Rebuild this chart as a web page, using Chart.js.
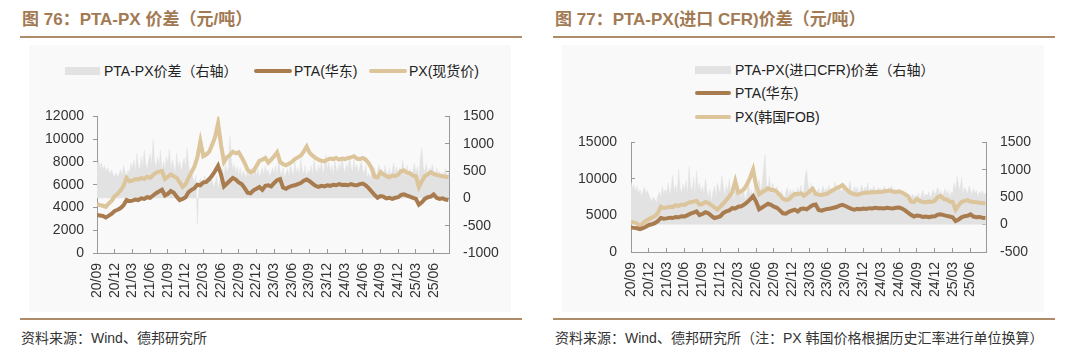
<!DOCTYPE html>
<html>
<head>
<meta charset="utf-8">
<script src="https://cdn.jsdelivr.net/npm/chart.js@4.4.0/dist/chart.umd.min.js"></script>
<style>
  body { margin: 0; width: 1080px; height: 358px; background: #fff; position: relative; overflow: hidden;
         font-family: "Liberation Sans", "Noto Sans CJK SC", sans-serif; }
  .abs { position: absolute; }
  .panel { background: #f9f9f9; }
  .title { font-weight: bold; font-size: 17px; line-height: 20px; color: #a27a54; white-space: nowrap; }
  .rule { height: 2px; background: #ae8b69; }
  .src { font-size: 14px; line-height: 18px; color: #333; white-space: nowrap; }
  .leg { font-size: 14px; line-height: 16px; color: #222; white-space: nowrap; }
  .sw { position: absolute; }
</style>
</head>
<body>

<div class="abs panel" style="left:29px; top:45px; width:482px; height:267px;"></div>
<div class="abs panel" style="left:562px; top:45px; width:482px; height:267px;"></div>

<div class="abs title" style="left:22px; top:10px;">图 76：PTA-PX 价差（元/吨）</div>
<div class="abs title" style="left:555px; top:10px;">图 77：PTA-PX(进口 CFR)价差（元/吨）</div>
<div class="abs rule" style="left:20px; top:36px; width:502px;"></div>
<div class="abs rule" style="left:553px; top:36px; width:502px;"></div>

<!-- legend, left chart -->
<div class="abs sw" style="left:65px; top:67px; width:35px; height:8px; background:#e2e2e2;"></div>
<div class="abs leg" style="left:104px; top:63px;">PTA-PX价差（右轴）</div>
<div class="abs sw" style="left:254px; top:69px; width:38px; height:4px; border-radius:2px; background:#a97c50;"></div>
<div class="abs leg" style="left:294px; top:63px;">PTA(华东)</div>
<div class="abs sw" style="left:369px; top:69px; width:38px; height:4px; border-radius:2px; background:#dcc49b;"></div>
<div class="abs leg" style="left:409px; top:63px;">PX(现货价)</div>

<!-- legend, right chart -->
<div class="abs sw" style="left:695px; top:66px; width:36px; height:8px; background:#e2e2e2;"></div>
<div class="abs leg" style="left:735px; top:62px;">PTA-PX(进口CFR)价差（右轴）</div>
<div class="abs sw" style="left:695px; top:91px; width:36px; height:4px; border-radius:2px; background:#a97c50;"></div>
<div class="abs leg" style="left:735px; top:85px;">PTA(华东)</div>
<div class="abs sw" style="left:695px; top:115px; width:36px; height:4px; border-radius:2px; background:#dcc49b;"></div>
<div class="abs leg" style="left:735px; top:109px;">PX(韩国FOB)</div>

<canvas id="leftChart" class="abs" style="left:30px; top:90px;" width="470" height="215"></canvas>
<canvas id="rightChart" class="abs" style="left:560px; top:116px;" width="480" height="189"></canvas>

<div class="abs rule" style="left:20px; top:318px; width:502px;"></div>
<div class="abs rule" style="left:553px; top:318px; width:502px;"></div>
<div class="abs src" style="left:21px; top:329px;">资料来源：Wind、德邦研究所</div>
<div class="abs src" style="left:555px; top:329px;">资料来源：Wind、德邦研究所（注：PX 韩国价格根据历史汇率进行单位换算）</div>

<script>
// quarterly tick labels, first one = start of the series (2020/09)
const tickLabels = ['20/09','20/12','21/03','21/06','21/09','21/12','22/03','22/06','22/09','22/12',
                    '23/03','23/06','23/09','23/12','24/03','24/06','24/09','24/12','25/03','25/06'];

// prices, two readings per month (yuan/ton)
const ptaEast = [
  3350,3300,3250,3120,3280,3450,3700,3800,3950,4200,4650,4550,
  4600,4700,4650,4800,4750,4900,4850,5050,5250,5400,5550,5050,
  5200,5450,5300,4950,4650,4750,4900,5350,5550,5700,6000,5950,
  6200,6250,6500,6800,7200,7650,6900,5850,6100,6350,6600,6450,
  6200,6050,5700,5300,5250,5500,5650,5800,5550,5900,5950,5850,
  6150,6400,6500,5750,5650,5800,5900,5950,6050,6150,6350,6450,
  6300,6100,5900,5800,5900,5850,5950,5900,6000,5950,6050,5980,
  6000,5950,6050,5980,5950,6050,6100,5950,5700,5400,5100,4850,
  5000,4950,4800,4850,4750,4850,4900,5100,5150,5050,4950,4850,
  4750,4250,4450,4750,4900,4950,5150,4850,4750,4800,4700,4650
];
const pxSpot = [
  4300,4200,4150,4050,4350,4600,5000,5200,5500,5900,6600,6300,
  6350,6500,6450,6600,6500,6700,6600,6850,7050,7150,7200,6500,
  6700,6900,6750,6600,6200,5800,6050,6600,7100,7600,8400,9800,
  8500,8650,8900,9500,10200,11400,9500,8000,8400,8600,8900,8750,
  8850,8400,7900,7300,7100,7200,7650,8100,8200,8350,7950,8200,
  8500,8850,8000,7800,7700,7850,8000,8250,8400,8550,8900,9350,
  8800,8550,8350,8200,8100,8050,8200,8300,8250,8350,8200,8300,
  8250,8350,8400,8500,8300,8250,8350,8200,7900,7450,6700,6650,
  7100,6900,6750,6650,6800,6750,6900,7200,7250,7050,7000,6800,
  6750,5800,6300,6750,6900,7100,6950,6850,6800,6750,6700,6650
];
const pxKoreaFob = [
  4150,4050,3900,3550,3900,4300,4500,4700,4900,5300,6200,6000,
  6100,6200,6150,6400,6300,6500,6450,6700,6800,6900,7000,6500,
  6600,6850,6700,6400,6100,5800,6200,6650,7100,7600,8200,9700,
  8100,8300,8600,9300,10200,11300,9100,7900,8200,8400,8700,8500,
  8500,8200,7800,7300,7100,7200,7600,7950,7900,8050,7700,7950,
  8300,8650,7950,7850,7800,7900,8000,8300,8500,8750,8900,9150,
  8700,8300,8050,7900,7850,7950,8050,8150,8100,8200,8150,8250,
  8200,8300,8350,8400,8250,8200,8300,8150,7900,7650,6900,6850,
  7250,7000,6850,6800,6900,6850,7000,7500,7650,7250,7200,6900,
  6850,5800,6400,6850,7000,7100,6900,6850,6800,6750,6700,6650
];

// spreads, four readings per month (right axis)
const spreadSpot = [
  620,700,560,650,520,600,480,560,500,450,520,430,
  400,470,380,450,520,420,600,480,380,520,460,640,
  560,700,480,820,600,520,760,560,880,620,540,700,
  820,600,1080,680,560,760,600,880,500,680,540,760,
  640,900,520,700,580,460,820,560,680,500,620,740,
  560,920,620,480,540,380,300,420,-480,280,360,220,
  300,420,260,380,240,460,320,200,280,400,180,300,
  420,560,380,640,480,560,1150,700,520,620,460,580,
  420,560,380,500,440,360,520,400,460,560,380,500,
  420,540,380,480,560,420,600,460,520,380,480,560,
  440,600,380,720,500,420,560,380,460,540,400,620,
  500,420,660,480,560,400,720,520,440,600,380,520,
  460,600,420,720,540,460,620,500,680,440,560,800,
  520,660,480,600,420,700,560,480,640,520,760,560,
  460,640,520,780,580,480,700,540,620,460,580,680,
  520,440,600,380,460,340,500,420,560,380,480,620,
  460,540,400,600,480,420,560,380,520,640,460,580,
  420,560,480,700,520,380,600,460,540,420,500,640,
  460,580,380,720,920,560,480,640,400,560,480,620,
  520,380,560,440,500,360,480,420,540,400,460,380
];
const spreadCfr = [
  780,650,720,600,700,560,640,520,600,680,560,620,
  540,480,420,500,460,400,520,600,480,700,560,640,
  580,760,520,680,900,600,720,560,1000,660,580,740,
  620,800,560,1050,700,600,860,540,980,640,760,580,
  700,560,840,620,500,640,420,580,700,520,760,640,
  580,900,680,540,720,600,840,500,620,460,680,560,
  520,640,480,700,560,440,600,760,520,640,460,700,
  560,680,820,600,760,1000,1280,720,640,880,560,760,
  640,520,700,580,480,620,540,460,600,680,520,640,
  560,640,500,600,680,540,720,580,620,880,1000,700,
  620,760,560,680,520,600,660,540,620,700,580,660,
  600,720,560,660,620,780,580,660,700,600,640,720,
  580,660,620,800,640,580,700,620,680,560,640,720,
  600,680,640,760,580,660,620,700,640,580,680,620,
  660,600,700,640,580,680,620,720,600,660,580,640,
  600,540,620,500,560,460,520,440,500,560,480,540,
  500,580,460,540,620,480,560,520,600,480,560,640,
  540,600,680,560,620,520,580,660,540,620,500,600,
  560,760,640,880,700,620,860,560,680,620,560,700,
  620,540,660,580,620,500,600,560,620,520,580,560
];

const FONT = { family: '"Liberation Sans", "Noto Sans CJK SC", sans-serif', size: 14 };
const AXIS = '#999';

// x value = months since 2020/09
const toXY = (arr, perMonth) => arr.map((v, i) => ({ x: i / perMonth, y: v }));
const plain = v => String(v);   // no thousands separator

function buildChart(id, spread, px, opt) {
  new Chart(document.getElementById(id), {
    type: 'line',
    data: {
      datasets: [
        { label: 'spread', data: toXY(spread, 4), yAxisID: 'y1', fill: 'origin',
          backgroundColor: '#e2e2e2', borderColor: '#e2e2e2', borderWidth: 0.5, pointRadius: 0, order: 3 },
        { label: 'PX', data: toXY(px, 2), yAxisID: 'y',
          borderColor: '#dcc49b', borderWidth: 4, pointRadius: 0, order: 2 },
        { label: 'PTA', data: toXY(ptaEast, 2), yAxisID: 'y',
          borderColor: '#a97c50', borderWidth: 4, pointRadius: 0, order: 1 }
      ]
    },
    options: {
      responsive: false,
      animation: false,
      devicePixelRatio: 1,
      layout: { padding: { top: 15, right: 0, bottom: 0, left: 0 } },
      plugins: { legend: { display: false }, tooltip: { enabled: false } },
      scales: {
        x: {
          type: 'linear', min: 0, max: 59.6,
          afterFit: s => { s.height = opt.xHeight; },
          afterBuildTicks: s => { s.ticks = tickLabels.map((_, k) => ({ value: k * 3 })); },
          ticks: { autoSkip: false, maxRotation: 90, minRotation: 90, padding: 14, color: '#333', font: FONT,
                   callback: v => tickLabels[Math.round(v / 3)] },
          grid: { drawOnChartArea: false, tickLength: -4, color: AXIS },
          border: { color: AXIS }
        },
        y: {
          position: 'left', min: 0, max: opt.yMax,
          afterFit: s => { s.width = opt.yWidth; },
          ticks: { stepSize: opt.yStep, padding: opt.yPad, color: '#333', font: FONT, callback: plain },
          grid: { drawOnChartArea: false, tickLength: opt.yTick, color: AXIS },
          border: { color: AXIS }
        },
        y1: {
          position: 'right', min: opt.y1Min, max: 1500,
          afterFit: s => { s.width = opt.y1Width; },
          ticks: { stepSize: 500, padding: 18, color: '#333', font: FONT, callback: plain },
          grid: { drawOnChartArea: false, tickLength: -4, color: AXIS },
          border: { color: AXIS }
        }
      }
    }
  });
}

buildChart('leftChart', spreadSpot, pxSpot,
  { yMax: 12000, yStep: 2000, y1Min: -1000, yWidth: 67, y1Width: 51, xHeight: 52, yTick: 4, yPad: 9 });
buildChart('rightChart', spreadCfr, pxKoreaFob,
  { yMax: 15000, yStep: 5000, y1Min: -500, yWidth: 71, y1Width: 54, xHeight: 53, yTick: -4, yPad: 18 });
</script>
</body>
</html>
